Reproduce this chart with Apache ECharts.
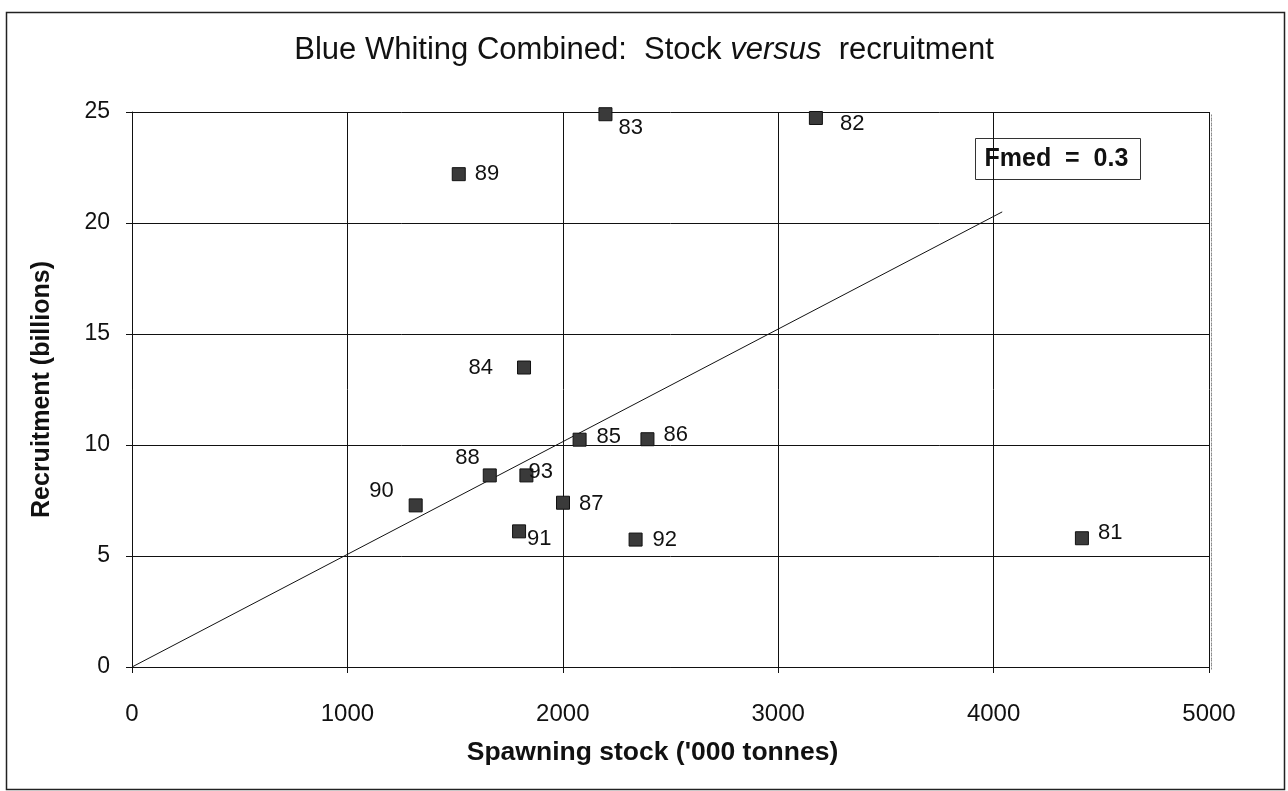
<!DOCTYPE html>
<html>
<head>
<meta charset="utf-8">
<script src="https://cdn.jsdelivr.net/npm/echarts@6/dist/echarts.min.js"></script>
<style>
html,body{margin:0;padding:0;background:#fff;}
#chart{width:1288px;height:791px;}
</style>
</head>
<body>
<div id="chart"></div>
<script>
// Data
var years = ['81','82','83','84','85','86','87','88','89','90','91','92','93'];
var spawningStock = [4410, 3175, 2198, 1820, 2078, 2393, 2001, 1661, 1517, 1317, 1797, 2338, 1831];
var recruitment   = [5.8, 24.73, 24.9, 13.49, 10.24, 10.26, 7.4, 8.63, 22.2, 7.28, 6.11, 5.74, 8.63];
var fmedLine = [[0, 0], [4040, 20.5]];
var xTicks = [0, 1000, 2000, 3000, 4000, 5000];
var yTicks = [0, 5, 10, 15, 20, 25];

// label placement (style, not data)
var labelPlace = {
  '81': {position: 'right', offset: [4, -5]},
  '82': {position: 'right', offset: [12, 6]},
  '83': {position: 'right', offset: [1, 14]},
  '84': {position: 'left', offset: [-19, 0]},
  '85': {position: 'right', offset: [5, -3]},
  '86': {position: 'right', offset: [4, -4]},
  '87': {position: 'right', offset: [4, 1]},
  '88': {position: 'left', offset: [2, -17]},
  '89': {position: 'right', offset: [4, 0]},
  '90': {position: 'left', offset: [-10, -14]},
  '91': {position: 'right', offset: [-4, 8]},
  '92': {position: 'right', offset: [5, 0]},
  '93': {position: 'right', offset: [-10, -3]}
};

var FONT = '"Liberation Sans", Arial, sans-serif';
var pts = years.map(function (y, i) {
  var p = labelPlace[y];
  return {
    value: [spawningStock[i], recruitment[i]],
    name: y,
    label: {show: true, formatter: y, position: p.position, offset: p.offset}
  };
});

var chart = echarts.init(document.getElementById('chart'), null, {renderer: 'canvas'});
chart.setOption({
  animation: false,
  backgroundColor: '#fff',
  title: {
    text: '{n|Blue Whiting Combined:  Stock }{i|versus}{n|  recruitment}',
    left: 'center',
    top: 30,
    textStyle: {
      fontWeight: 'normal',
      rich: {
        n: {fontFamily: FONT, fontSize: 31, fontWeight: 'normal', color: '#111'},
        i: {fontFamily: FONT, fontSize: 31, fontWeight: 'normal', color: '#111', fontStyle: 'italic'}
      }
    }
  },
  grid: {left: 132, right: 79, top: 112, bottom: 124, containLabel: false},
  xAxis: {
    type: 'value', min: 0, max: 5000, interval: 1000,
    name: "Spawning stock ('000 tonnes)",
    nameLocation: 'middle', nameGap: 72,
    nameTextStyle: {fontFamily: FONT, fontSize: 26.5, fontWeight: 'bold', color: '#111',
                    padding: [0, 36, 0, 0]},
    axisLine: {show: true, onZero: false, lineStyle: {color: '#111', width: 1}},
    axisTick: {show: true, length: 6, lineStyle: {color: '#111'}},
    axisLabel: {margin: 35, fontFamily: FONT, fontSize: 24, color: '#111',
                formatter: function (v) { return String(v); }},
    splitLine: {show: true, lineStyle: {color: '#111', width: 1}}
  },
  yAxis: {
    type: 'value', min: 0, max: 25, interval: 5,
    name: 'Recruitment (billions)',
    nameLocation: 'middle', nameGap: 77, nameRotate: 90,
    nameTextStyle: {fontFamily: FONT, fontSize: 25, fontWeight: 'bold', color: '#111'},
    axisLine: {show: true, lineStyle: {color: '#111', width: 1}},
    axisTick: {show: true, length: 6, lineStyle: {color: '#111'}},
    axisLabel: {margin: 22, fontFamily: FONT, fontSize: 23, color: '#111',
                formatter: function (v) { return String(v); }},
    splitLine: {show: true, lineStyle: {color: '#111', width: 1}}
  },
  graphic: [
    {type: 'rect', left: 4, top: 10, shape: {width: 1278, height: 777},
     style: {fill: 'none', stroke: '#222', lineWidth: 1.5}, silent: true},
    {type: 'rect', left: 1209, top: 112, shape: {width: 0, height: 555},
     style: {fill: 'none', stroke: '#888', lineWidth: 1, lineDash: [2, 3]}, silent: true, z: 10},
    {type: 'group', left: 975, top: 138, z: 20, children: [
      {type: 'rect', shape: {width: 165, height: 41},
       style: {fill: '#fff', stroke: '#333', lineWidth: 1}},
      {type: 'text', left: 9, top: 8,
       style: {text: 'Fmed  =  0.3', font: 'bold 25px ' + FONT, fill: '#111'}}
    ]}
  ],
  series: [
    {
      type: 'line', data: fmedLine, symbol: 'none', silent: true,
      lineStyle: {color: '#111', width: 1}, z: 2
    },
    {
      type: 'scatter', data: pts, symbol: 'rect', symbolSize: 13,
      itemStyle: {
        color: '#3a3a3a', borderColor: '#111', borderWidth: 1, opacity: 1,
        decal: {symbol: 'circle', symbolSize: 0.6, color: 'rgba(255,255,255,0.55)',
                dashArrayX: [[3, 3]], dashArrayY: [3, 3]}
      },
      label: {fontFamily: FONT, fontSize: 22, color: '#111'},
      z: 3
    }
  ]
});
</script>
</body>
</html>
